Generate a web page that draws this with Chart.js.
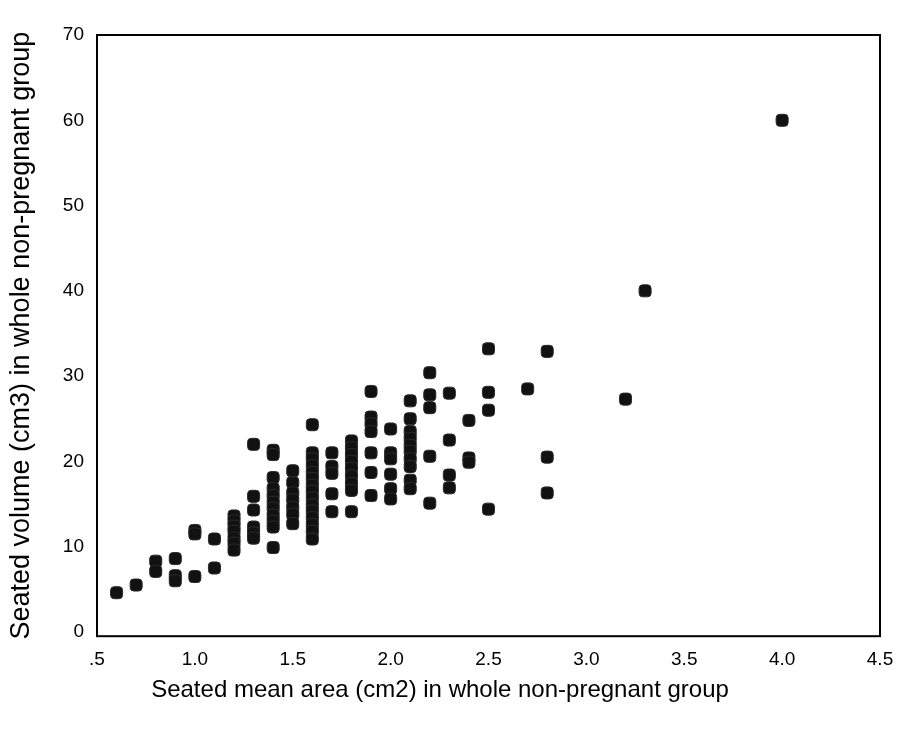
<!DOCTYPE html>
<html>
<head>
<meta charset="utf-8">
<title>Seated volume vs seated mean area</title>
<script src="https://cdn.jsdelivr.net/npm/chart.js@4.4.1/dist/chart.umd.min.js"></script>
<style>
  html, body { margin: 0; padding: 0; background: #fff; }
  #wrap { width: 898px; height: 749px; }
</style>
</head>
<body>
<div id="wrap"><canvas id="scatter" width="898" height="749"></canvas></div>
<script>
// x columns (cm2) and the volumes (cm3)
const areaColumns = [0.6, 0.7, 0.8, 0.9, 1.0, 1.1, 1.2, 1.3, 1.4, 1.5, 1.6, 1.7, 1.8, 1.9,
                     2.0, 2.1, 2.2, 2.3, 2.4, 2.5, 2.7, 2.8, 3.2, 3.3, 4.0];
const volumeByColumn = [
    [4.6],
    [5.5],
    [8.3, 7.1],
    [8.6, 6.6, 6.0],
    [11.9, 11.5, 6.5],
    [10.9, 7.5],
    [13.6, 13.0, 12.4, 11.8, 11.0, 10.4, 9.6],
    [22.0, 15.9, 14.3, 12.3, 11.6, 11.0],
    [21.3, 20.8, 18.1, 16.8, 16.0, 15.2, 14.5, 13.7, 13.0, 12.3, 9.9],
    [18.9, 17.5, 16.3, 15.5, 14.6, 13.8, 12.7],
    [24.3, 21.0, 20.3, 19.5, 18.7, 18.0, 17.2, 16.5, 15.7, 14.9, 14.2, 13.4, 12.6, 11.8, 10.9],
    [21.0, 19.4, 18.6, 16.2, 14.1],
    [22.4, 21.6, 20.8, 20.0, 19.2, 18.3, 17.4, 16.6, 14.1],
    [28.2, 25.2, 24.4, 23.5, 21.0, 18.7, 16.0],
    [23.8, 21.0, 20.3, 18.5, 16.8, 15.6],
    [27.1, 25.0, 23.5, 22.7, 21.9, 21.2, 20.3, 19.4, 17.8, 16.8],
    [30.4, 27.8, 26.3, 20.6, 15.1],
    [28.0, 22.5, 18.4, 16.9],
    [24.8, 20.4, 19.9],
    [33.2, 28.1, 26.0, 14.4],
    [28.5],
    [32.9, 20.5, 16.3],
    [27.3],
    [40.0],
    [60.0]
];

const xTickValues = [0.5, 1.0, 1.5, 2.0, 2.5, 3.0, 3.5, 4.0, 4.5];
const xTickLabels = ['.5', '1.0', '1.5', '2.0', '2.5', '3.0', '3.5', '4.0', '4.5'];
const yTickValues = [0, 10, 20, 30, 40, 50, 60, 70];

const xTitle = 'Seated mean area (cm2) in whole non-pregnant group';
const yTitle = 'Seated volume (cm3) in whole non-pregnant group';

const FONT = '"Liberation Sans", Arial, Helvetica, sans-serif';

const points = [];
areaColumns.forEach((x, i) => {
    volumeByColumn[i].forEach(y => points.push({ x: x, y: y }));
});

// black box around the plot area
const frame = {
    id: 'frame',
    afterDraw(chart) {
        const a = chart.chartArea;
        const ctx = chart.ctx;
        ctx.save();
        ctx.strokeStyle = '#000';
        ctx.lineWidth = 2;
        ctx.strokeRect(a.left, a.top, a.right - a.left, a.bottom - a.top);
        ctx.restore();
    }
};

new Chart(document.getElementById('scatter'), {
    type: 'scatter',
    data: {
        datasets: [{
            data: points,
            pointStyle: 'rectRounded',
            pointRadius: 7,
            pointHoverRadius: 7,
            backgroundColor: '#111',
            borderColor: '#2a2a2a',
            borderWidth: 1
        }]
    },
    options: {
        responsive: false,
        devicePixelRatio: 1,
        animation: false,
        layout: { padding: { top: 35, right: 18, left: 0, bottom: 44 } },
        plugins: {
            legend: { display: false },
            tooltip: { enabled: false },
            title: {
                display: true,
                position: 'bottom',
                text: xTitle,
                color: '#000',
                font: { family: FONT, size: 24, weight: 'normal' },
                padding: { top: 0, bottom: 0 }
            }
        },
        scales: {
            x: {
                type: 'linear',
                min: 0.5,
                max: 4.5,
                grid: { display: false, drawTicks: false },
                border: { display: false },
                afterBuildTicks: s => { s.ticks = xTickValues.map(v => ({ value: v })); },
                afterFit: s => { s.height = 40; s.paddingLeft = 0; s.paddingRight = 0; },
                ticks: {
                    padding: 12,
                    color: '#000',
                    font: { family: FONT, size: 19 },
                    maxRotation: 0,
                    autoSkip: false,
                    callback: v => xTickLabels[xTickValues.indexOf(v)]
                }
            },
            y: {
                type: 'linear',
                min: -0.5,
                max: 70,
                grid: { display: false, drawTicks: false },
                border: { display: false },
                afterBuildTicks: s => { s.ticks = yTickValues.map(v => ({ value: v })); },
                afterFit: s => { s.width = 97; s.paddingTop = 0; s.paddingBottom = 0; },
                ticks: {
                    padding: 13,
                    color: '#000',
                    font: { family: FONT, size: 19 },
                    autoSkip: false
                },
                title: {
                    display: true,
                    text: yTitle,
                    color: '#000',
                    font: { family: FONT, size: 27 },
                    padding: { top: 5, bottom: 0 }
                }
            }
        }
    },
    plugins: [frame]
});
</script>
</body>
</html>
